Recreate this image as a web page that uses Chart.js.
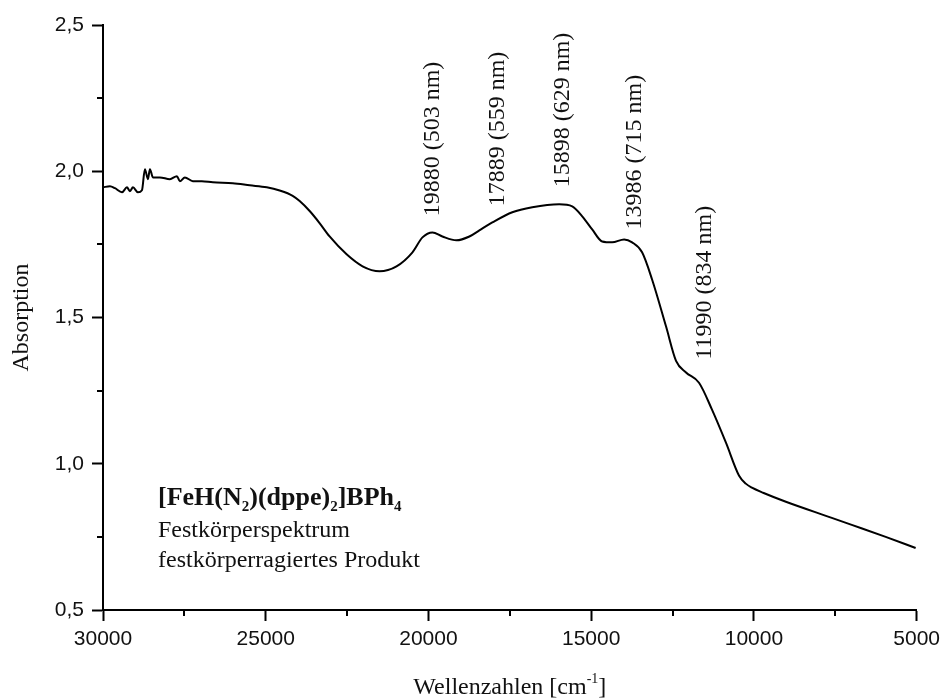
<!DOCTYPE html>
<html>
<head>
<meta charset="utf-8">
<script src="https://cdn.jsdelivr.net/npm/chart.js@4.4.0/dist/chart.umd.min.js"></script>
<style>
  html, body { margin: 0; padding: 0; background: #fff; }
</style>
</head>
<body>
<canvas id="spectrum" width="946" height="700"></canvas>
<script>
// Wavenumbers [cm-1] and absorption
const wavenumbers = [
  30000, 29785, 29632, 29417, 29264, 29172, 29080, 28926, 28804, 28712,
  28620, 28558, 28466, 28252, 27945, 27730, 27638, 27485, 27239, 26963,
  26626, 26012, 25491, 24969, 24571, 24172, 23957, 23650, 23340, 23037, 22515,
  22025, 21503, 20982, 20491, 20184, 19877, 19571, 19141, 18742, 18436,
  18037, 17423, 16810, 15982, 15583, 15276, 14969, 14663, 14356, 13988,
  13742, 13436, 13129, 12699, 12393, 12086, 11687, 11288, 10859, 10460,
  10250, 10061, 9700, 9018, 7607, 6994, 5951, 5031
];
const absorption = [
  1.945, 1.949, 1.942, 1.928, 1.945, 1.932, 1.945, 1.928, 1.935, 2.007,
  1.973, 2.007, 1.979, 1.979, 1.973, 1.983, 1.966, 1.979, 1.966, 1.966,
  1.962, 1.959, 1.952, 1.945, 1.934, 1.916, 1.898, 1.864, 1.822, 1.777, 1.716,
  1.675, 1.658, 1.675, 1.723, 1.774, 1.791, 1.777, 1.764, 1.777, 1.798,
  1.825, 1.860, 1.877, 1.887, 1.880, 1.846, 1.801, 1.760, 1.757, 1.767,
  1.757, 1.723, 1.630, 1.469, 1.352, 1.312, 1.277, 1.185, 1.072, 0.960,
  0.932, 0.918, 0.900, 0.870, 0.815, 0.791, 0.750, 0.712
];

// Band labels and where their text starts (data units)
const peakLabels = ["19880 (503 nm)", "17889 (559 nm)", "15898 (629 nm)", "13986 (715 nm)", "11990 (834 nm)"];
const peakLabelX = [19880, 17870, 15880, 13650, 11500];
const peakLabelY = [1.846, 1.880, 1.945, 1.801, 1.356];

const xMin = 5000, xMax = 30000, xMajor = 5000, xMinor = 2500;
const yMin = 0.5, yMax = 2.5, yMajor = 0.5, yMinor = 0.25;

const serif = "'Liberation Serif', 'Times New Roman', serif";
const sans = "'Liberation Sans', Arial, sans-serif";

function isMajor(v, step) {
  return Math.abs(v / step - Math.round(v / step)) < 1e-6;
}

// minor ticks, axis titles and the text annotations
const extrasPlugin = {
  id: "extras",
  afterDraw(chart) {
    const ctx = chart.ctx;
    const xs = chart.scales.x, ys = chart.scales.y;
    const area = chart.chartArea;

    ctx.save();
    ctx.strokeStyle = "#000";
    ctx.lineWidth = 2;
    xs.ticks.filter(t => !isMajor(t.value, xMajor)).forEach(t => {
      const px = Math.round(xs.getPixelForValue(t.value));
      ctx.beginPath();
      ctx.moveTo(px, area.bottom);
      ctx.lineTo(px, area.bottom + 6);
      ctx.stroke();
    });
    ys.ticks.filter(t => !isMajor(t.value, yMajor)).forEach(t => {
      const py = Math.round(ys.getPixelForValue(t.value));
      ctx.beginPath();
      ctx.moveTo(area.left, py);
      ctx.lineTo(area.left - 6, py);
      ctx.stroke();
    });

    ctx.fillStyle = "#111";

    // y axis title
    ctx.save();
    ctx.translate(22, (area.top + area.bottom) / 2);
    ctx.rotate(-Math.PI / 2);
    ctx.font = "24px " + serif;
    ctx.textAlign = "center";
    ctx.textBaseline = "middle";
    ctx.fillText("Absorption", 0, 0);
    ctx.restore();

    // x axis title with superscript
    ctx.textBaseline = "alphabetic";
    ctx.textAlign = "left";
    const t1 = "Wellenzahlen [cm", t2 = "-1", t3 = "]";
    ctx.font = "24px " + serif;
    const w1 = ctx.measureText(t1).width, w3 = ctx.measureText(t3).width;
    ctx.font = "14px " + serif;
    const w2 = ctx.measureText(t2).width;
    const x0 = (area.left + area.right) / 2 - (w1 + w2 + w3) / 2;
    const base = 694;
    ctx.font = "24px " + serif;
    ctx.fillText(t1, x0, base);
    ctx.font = "14px " + serif;
    ctx.fillText(t2, x0 + w1, base - 11);
    ctx.font = "24px " + serif;
    ctx.fillText(t3, x0 + w1 + w2, base);

    // band labels, rotated
    ctx.font = "24px " + serif;
    peakLabels.forEach((txt, i) => {
      ctx.save();
      ctx.translate(xs.getPixelForValue(peakLabelX[i]), ys.getPixelForValue(peakLabelY[i]));
      ctx.rotate(-Math.PI / 2);
      ctx.textAlign = "left";
      ctx.textBaseline = "middle";
      ctx.fillText(txt, 0, 0);
      ctx.restore();
    });

    // compound name and notes
    const lx = xs.getPixelForValue(28310);
    const ly = ys.getPixelForValue(0.86);
    const parts = [["[FeH(N", false], ["2", true], [")(dppe)", false], ["2", true], ["]BPh", false], ["4", true]];
    let cx = lx;
    parts.forEach(([s, sub]) => {
      ctx.font = sub ? "bold 15px " + serif : "bold 26px " + serif;
      ctx.fillText(s, cx, sub ? ly + 6 : ly);
      cx += ctx.measureText(s).width;
    });
    ctx.font = "24px " + serif;
    ctx.fillText("Festkörperspektrum", lx, ly + 32);
    ctx.fillText("festkörperragiertes Produkt", lx, ly + 62);
    ctx.restore();
  }
};

new Chart(document.getElementById("spectrum"), {
  type: "line",
  data: {
    datasets: [{
      data: wavenumbers.map((w, i) => ({ x: w, y: absorption[i] })),
      borderColor: "#000",
      borderWidth: 2,
      pointRadius: 0,
      cubicInterpolationMode: "monotone",
      fill: false
    }]
  },
  options: {
    responsive: false,
    animation: false,
    layout: { padding: { top: 25, right: 28, left: 0, bottom: 0 } },
    plugins: { legend: { display: false }, tooltip: { enabled: false } },
    scales: {
      x: {
        type: "linear",
        reverse: true,
        min: xMin,
        max: xMax,
        afterFit(scale) { scale.height = 90; },
        border: { display: true, color: "#000", width: 2 },
        grid: {
          drawOnChartArea: false,
          tickLength: 11,
          tickWidth: 2,
          tickColor: c => isMajor(c.tick.value, xMajor) ? "#000" : "rgba(0,0,0,0)"
        },
        ticks: {
          stepSize: xMinor,
          autoSkip: false,
          maxRotation: 0,
          padding: 6,
          color: "#111",
          font: { family: sans, size: 21 },
          callback: v => isMajor(v, xMajor) ? String(v) : ""
        }
      },
      y: {
        min: yMin,
        max: yMax,
        afterFit(scale) { scale.width = 103; },
        border: { display: true, color: "#000", width: 2 },
        grid: {
          drawOnChartArea: false,
          tickLength: 11,
          tickWidth: 2,
          tickColor: c => isMajor(c.tick.value, yMajor) ? "#000" : "rgba(0,0,0,0)"
        },
        ticks: {
          stepSize: yMinor,
          autoSkip: false,
          padding: 8,
          color: "#111",
          font: { family: sans, size: 21 },
          callback: v => isMajor(v, yMajor) ? v.toFixed(1).replace(".", ",") : ""
        }
      }
    }
  },
  plugins: [extrasPlugin]
});
</script>
</body>
</html>
